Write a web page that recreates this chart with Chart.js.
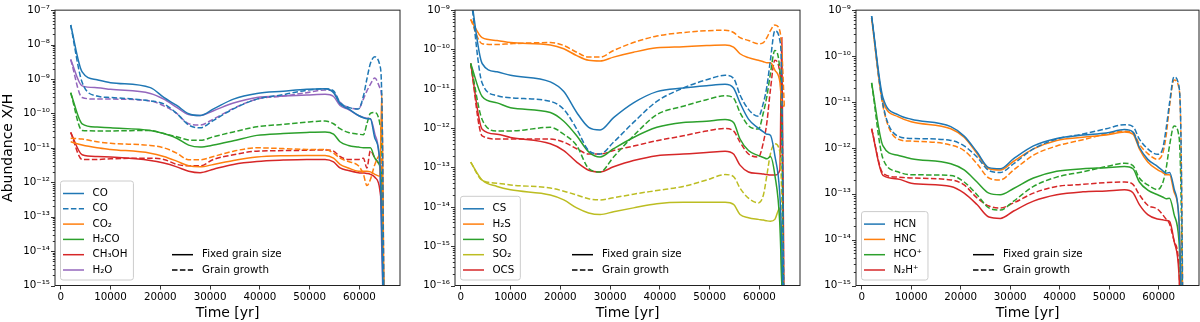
<!DOCTYPE html>
<html lang="en">
<head>
<meta charset="UTF-8">
<title>Abundances vs time</title>
<script src="https://cdn.jsdelivr.net/npm/chart.js"></script>
<style>
  body { margin: 0; background: #fff; }
  canvas { position: absolute; top: 0; }
</style>
</head>
<body>
<canvas id="c1" width="402" height="322" style="left:0px"></canvas>
<canvas id="c2" width="402" height="322" style="left:400px"></canvas>
<canvas id="c3" width="400" height="322" style="left:800px"></canvas>
<script>
// time grid [yr], shared by every series
const time = [2000, 4300, 7300, 10000, 18000, 20700, 23300, 25700, 28000, 30700, 34700, 39400, 44700,
  49400, 53100, 54800, 56100, 57800, 59800, 60800, 61500, 62200, 63100, 64100, 64500, 65000];
const xTicks = [0, 10000, 20000, 30000, 40000, 50000, 60000];
const styleNames = ['Fixed grain size', 'Grain growth'];

// panel 1: O-bearing species
const coFixed = [3.7e-8, 1.6e-9, 9.5e-10, 7.8e-10, 5.6e-10, 2.9e-10, 1.7e-10, 9.8e-11, 8.7e-11, 1.35e-10, 2.6e-10, 3.8e-10, 4.4e-10, 5e-10, 5.2e-10, 4e-10, 1.9e-10, 1.35e-10, 8.7e-11, 7.5e-11, 7e-11, 7e-11, 1.9e-11, 4e-12, 3e-14, 1e-17];
const coGrowth = [3.7e-8, 8e-10, 3.2e-10, 2.9e-10, 2.3e-10, 1.9e-10, 1e-10, 4.6e-11, 3.8e-11, 6.3e-11, 1.35e-10, 2.6e-10, 3.5e-10, 4.7e-10, 5.2e-10, 4.5e-10, 2.1e-10, 1.5e-10, 1.35e-10, 3.2e-10, 1e-9, 2.8e-9, 4.4e-9, 2.5e-9, 2.5e-10, 1e-17];
const co2Fixed = [1.5e-11, 1.2e-11, 1e-11, 9e-12, 7e-12, 5.6e-12, 4.1e-12, 3e-12, 2.8e-12, 3.3e-12, 4.3e-12, 5.4e-12, 5.9e-12, 6e-12, 6e-12, 5e-12, 3.3e-12, 2.6e-12, 2.1e-12, 2.1e-12, 2.1e-12, 2e-12, 1.7e-12, 1.5e-12, 4e-10, 1e-17];
const co2Growth = [1.9e-11, 1.8e-11, 1.5e-11, 1.35e-11, 1.17e-11, 1e-11, 7e-12, 4.5e-12, 4.5e-12, 5.6e-12, 8e-12, 1e-11, 9.5e-12, 9e-12, 9e-12, 7e-12, 5e-12, 4e-12, 3e-12, 1.7e-12, 8e-13, 1.2e-12, 3.3e-12, 6e-12, 3e-12, 1e-17];
const h2coFixed = [4e-10, 5e-11, 4e-11, 3.8e-11, 3.2e-11, 2.6e-11, 1.9e-11, 1.2e-11, 1.05e-11, 1.2e-11, 1.6e-11, 2.3e-11, 2.6e-11, 2.8e-11, 2.9e-11, 2.5e-11, 1.5e-11, 1.17e-11, 1.05e-11, 1e-11, 1e-11, 1e-11, 5e-12, 3e-12, 1e-12, 1e-17];
const h2coGrowth = [4e-10, 3.2e-11, 3.1e-11, 3.1e-11, 3.2e-11, 2.6e-11, 2.1e-11, 1.7e-11, 1.65e-11, 2.1e-11, 2.9e-11, 4.1e-11, 4.8e-11, 5.6e-11, 6e-11, 5e-11, 3.6e-11, 2.8e-11, 2.5e-11, 2.4e-11, 5e-11, 1e-10, 1.07e-10, 5e-11, 8e-12, 1e-17];
const ch3ohFixed = [2.8e-11, 6.3e-12, 5.6e-12, 5.4e-12, 4.3e-12, 3.6e-12, 2.8e-12, 2.1e-12, 1.9e-12, 2.4e-12, 3.3e-12, 4e-12, 4.4e-12, 4.6e-12, 4.6e-12, 3.9e-12, 2.6e-12, 2.2e-12, 1.9e-12, 1.85e-12, 1.8e-12, 1.7e-12, 1.4e-12, 6e-13, 1e-13, 1e-17];
const ch3ohGrowth = [2.8e-11, 4.6e-12, 4.6e-12, 4.8e-12, 5e-12, 4.6e-12, 3.3e-12, 3e-12, 3e-12, 4.6e-12, 6.3e-12, 8e-12, 8.3e-12, 8.5e-12, 8.7e-12, 8e-12, 5.6e-12, 4.6e-12, 4.6e-12, 5e-12, 2.6e-12, 8.3e-12, 5e-12, 3.3e-12, 2e-12, 1e-17];
const h2oFixed = [3.7e-9, 6.3e-10, 5.6e-10, 5e-10, 3.8e-10, 2.6e-10, 1.5e-10, 9.3e-11, 8.7e-11, 1.2e-10, 2e-10, 2.9e-10, 3.2e-10, 3.4e-10, 3.6e-10, 3.1e-10, 1.7e-10, 1.3e-10, 8.7e-11, 7.6e-11, 7.2e-11, 7e-11, 2.5e-11, 2.5e-12, 1e-14, 1e-17];
const h2oGrowth = [3.7e-9, 2.9e-10, 2.6e-10, 2.6e-10, 2.3e-10, 1.66e-10, 1e-10, 5e-11, 4.6e-11, 6.9e-11, 1.4e-10, 2.6e-10, 3.2e-10, 4e-10, 4.8e-10, 4.2e-10, 2.1e-10, 1.5e-10, 1.35e-10, 2.6e-10, 4.5e-10, 7e-10, 1.07e-9, 5.6e-10, 2.1e-10, 1e-17];

// panel 2: S-bearing species
const csFixed = [2.5e-9, 4.4e-11, 2.7e-11, 2.2e-11, 1.5e-11, 8.5e-12, 2.5e-12, 1.05e-12, 9e-13, 1.85e-12, 4.4e-12, 8.5e-12, 1.05e-11, 1.2e-11, 1.3e-11, 1.05e-11, 4.4e-12, 1.7e-12, 1e-12, 8e-13, 7e-13, 6.6e-13, 2e-13, 2e-14, 1e-15, 1e-18];
const csGrowth = [2.5e-9, 1.4e-11, 6.7e-12, 5.9e-12, 4.8e-12, 3e-12, 9.5e-13, 2.7e-13, 2.2e-13, 4.4e-13, 1.4e-12, 4.8e-12, 1.05e-11, 1.7e-11, 2.2e-11, 1.85e-11, 7e-12, 3e-12, 2e-12, 4.4e-12, 1.15e-11, 5.3e-11, 3e-10, 1.7e-10, 1.15e-11, 1e-18];
const h2sFixed = [5.8e-10, 2e-10, 1.7e-10, 1.5e-10, 1.3e-10, 1.04e-10, 7e-11, 5.3e-11, 5.1e-11, 6.4e-11, 8.5e-11, 1.1e-10, 1.18e-10, 1.26e-10, 1.3e-10, 1.15e-10, 7.8e-11, 6.2e-11, 5.3e-11, 4.9e-11, 4.6e-11, 4.6e-11, 3e-11, 1.5e-11, 4.4e-12, 3.5e-12];
const h2sGrowth = [5.8e-10, 1.4e-10, 1.34e-10, 1.4e-10, 1.5e-10, 1.26e-10, 8.5e-11, 6.4e-11, 6.4e-11, 9.4e-11, 1.5e-10, 2.2e-10, 2.7e-10, 3e-10, 3.1e-10, 2.7e-10, 2e-10, 1.7e-10, 1.4e-10, 1.5e-10, 2e-10, 3e-10, 4.2e-10, 3e-10, 9.3e-11, 3.5e-12];
const soFixed = [4.4e-11, 6.4e-12, 4.4e-12, 3.3e-12, 2.5e-12, 1.5e-12, 6.4e-13, 2.5e-13, 1.85e-13, 3e-13, 5.8e-13, 1.05e-12, 1.4e-12, 1.5e-12, 1.66e-12, 1.4e-12, 5.3e-13, 2.7e-13, 2e-13, 1.8e-13, 1.66e-13, 1.9e-13, 6.4e-14, 3.6e-15, 1e-16, 1e-18];
const soGrowth = [4.4e-11, 1.66e-12, 8.5e-13, 8.5e-13, 1.05e-12, 7e-13, 3.6e-13, 9.4e-14, 7.7e-14, 1.85e-13, 6.4e-13, 2.2e-12, 3.6e-12, 5.3e-12, 6.7e-12, 5.8e-12, 2.5e-12, 1.15e-12, 9.5e-13, 2.5e-12, 6.5e-12, 2.4e-11, 9.4e-11, 3e-11, 6.4e-13, 1e-18];
const so2Fixed = [1.37e-13, 4.8e-14, 3.3e-14, 2.7e-14, 2e-14, 1.5e-14, 9.4e-15, 7e-15, 6.4e-15, 7.5e-15, 9.4e-15, 1.2e-14, 1.3e-14, 1.3e-14, 1.3e-14, 1.15e-14, 6.4e-15, 5.3e-15, 4.8e-15, 4.6e-15, 4.4e-15, 4.3e-15, 4.8e-15, 9.4e-15, 1e-16, 1e-18];
const so2Growth = [1.37e-13, 4.7e-14, 4e-14, 3.6e-14, 3e-14, 2.5e-14, 2e-14, 1.6e-14, 1.5e-14, 1.7e-14, 2.1e-14, 2.6e-14, 3.3e-14, 4.8e-14, 6.6e-14, 5.9e-14, 3e-14, 1.66e-14, 1.26e-14, 2e-14, 6.4e-14, 2.2e-13, 4e-13, 2.5e-13, 1.4e-14, 1e-18];
const ocsFixed = [4.4e-11, 9.4e-13, 7e-13, 5.8e-13, 4e-13, 2.7e-13, 1.37e-13, 8.5e-14, 7.7e-14, 1.04e-13, 1.5e-13, 2e-13, 2.2e-13, 2.4e-13, 2.6e-13, 2.2e-13, 1.15e-13, 7.7e-14, 7e-14, 6.8e-14, 6.6e-14, 6.4e-14, 6.4e-14, 8.5e-14, 2e-10, 1e-18];
const ocsGrowth = [4.4e-11, 6.4e-13, 5.3e-13, 5.3e-13, 5.3e-13, 4.4e-13, 3e-13, 2.2e-13, 2.2e-13, 2.7e-13, 3.5e-13, 4.8e-13, 6.4e-13, 8.5e-13, 9.8e-13, 8.5e-13, 4.4e-13, 2.2e-13, 1.85e-13, 4.4e-13, 1.4e-12, 9.3e-12, 5.3e-11, 2.5e-11, 1.4e-12, 1e-18];

// panel 3: N-bearing species and ions
const hcnFixed = [7.4e-10, 1.23e-11, 5.3e-12, 4.2e-12, 2.9e-12, 1.8e-12, 8.1e-13, 3.7e-13, 3.5e-13, 5.8e-13, 1.1e-12, 1.6e-12, 1.9e-12, 2.1e-12, 2.5e-12, 2.2e-12, 1.03e-12, 5.6e-13, 3.9e-13, 3.2e-13, 2.8e-13, 2.9e-13, 1.3e-13, 2.6e-14, 1e-15, 1e-17];
const hcnGrowth = [7.4e-10, 8.7e-12, 1.8e-12, 1.6e-12, 1.45e-12, 1.1e-12, 6.3e-13, 3.2e-13, 2.9e-13, 4.5e-13, 9.5e-13, 1.55e-12, 2e-12, 2.6e-12, 3.2e-12, 2.9e-12, 1.55e-12, 9.5e-13, 7.2e-13, 9.5e-13, 2.6e-12, 9.5e-12, 3.5e-11, 2.2e-11, 1.8e-12, 1e-17];
const hncFixed = [6.8e-10, 1.03e-11, 4.8e-12, 3.7e-12, 2.6e-12, 1.7e-12, 7.5e-13, 3.5e-13, 3.3e-13, 5.1e-13, 9.5e-13, 1.45e-12, 1.7e-12, 1.9e-12, 2.2e-12, 2e-12, 9.5e-13, 4.9e-13, 3.3e-13, 2.9e-13, 2.6e-13, 2.6e-13, 1.1e-13, 3e-14, 1e-15, 1e-17];
const hncGrowth = [6.8e-10, 8.1e-12, 1.55e-12, 1.4e-12, 1.15e-12, 8.7e-13, 4.5e-13, 2.2e-13, 2e-13, 3.3e-13, 6.9e-13, 1.1e-12, 1.5e-12, 2e-12, 2.3e-12, 2.2e-12, 1.2e-12, 7.5e-13, 5.6e-13, 7.5e-13, 1.8e-12, 8.1e-12, 3e-11, 2e-11, 1.8e-12, 1e-17];
const hcoFixed = [2.6e-11, 1.1e-12, 6.9e-13, 5.8e-13, 4.5e-13, 3.3e-13, 1.8e-13, 1.03e-13, 9.5e-14, 1.3e-13, 2.2e-13, 3.1e-13, 3.5e-13, 3.7e-13, 3.9e-13, 3.5e-13, 1.8e-13, 1.2e-13, 9.5e-14, 8.5e-14, 7.8e-14, 8e-14, 3.6e-14, 9.5e-15, 1e-15, 1e-17];
const hcoGrowth = [2.6e-11, 5.8e-13, 3e-13, 2.6e-13, 2.5e-13, 1.8e-13, 9.5e-14, 4.9e-14, 4.4e-14, 6.9e-14, 1.44e-13, 2.3e-13, 3e-13, 3.9e-13, 4.6e-13, 4.1e-13, 2.2e-13, 1.55e-13, 1.23e-13, 1.7e-13, 3.5e-13, 1.12e-12, 3e-12, 1.8e-12, 1.3e-13, 1e-17];
const n2hFixed = [2.6e-12, 2.5e-13, 2.1e-13, 1.7e-13, 1.44e-13, 1.03e-13, 5.8e-14, 3.1e-14, 2.9e-14, 4.2e-14, 6.9e-14, 9.5e-14, 1.1e-13, 1.15e-13, 1.22e-13, 1.05e-13, 5.8e-14, 3.5e-14, 2.8e-14, 2.7e-14, 2.6e-14, 2.5e-14, 9.5e-15, 1.8e-15, 1e-16, 1e-17];
const n2hGrowth = [2.6e-12, 2.8e-13, 2.3e-13, 2.2e-13, 2e-13, 1.55e-13, 8.1e-14, 5.4e-14, 4.9e-14, 6.3e-14, 1.03e-13, 1.44e-13, 1.6e-13, 1.75e-13, 1.8e-13, 1.6e-13, 9.5e-14, 5.6e-14, 4.6e-14, 3.5e-14, 2.8e-14, 2.2e-14, 9.5e-15, 2.6e-15, 1e-16, 1e-17];

const C = {
  blue: '#1f77b4', orange: '#ff7f0e', green: '#2ca02c',
  red: '#d62728', purple: '#9467bd', olive: '#bcbd22'
};
const FONT = 'DejaVu Sans';

function line(label, color, values, dashed, inLegend) {
  return {
    label: label,
    inLegend: inLegend,
    data: time.map((t, i) => ({x: t, y: values[i]})),
    borderColor: color,
    backgroundColor: color,
    borderWidth: 1.5,
    borderDash: dashed ? [5.5, 2.4] : [],
    pointRadius: 0,
    fill: false,
    cubicInterpolationMode: 'monotone'
  };
}

const sup = {'0': '⁰', '1': '¹', '2': '²', '3': '³', '4': '⁴', '5': '⁵', '6': '⁶', '7': '⁷', '8': '⁸', '9': '⁹', '-': '⁻'};
function powLabel(v) {
  const e = Math.round(Math.log10(v));
  return '10' + String(e).split('').map(c => sup[c]).join('');
}

// legends inside the axes + frame + minor ticks on the log axis
const decorations = {
  id: 'decorations',
  afterDatasetsDraw(chart) {
    const ctx = chart.ctx, a = chart.chartArea;
    const items = chart.data.datasets.filter(d => d.inLegend);
    const rowH = 15.3;
    const lastY = a.bottom - 15.5;
    const firstY = lastY - (items.length - 1) * rowH;
    ctx.save();
    ctx.font = '10.3px "' + FONT + '"';
    const textW = Math.max(...items.map(d => ctx.measureText(d.label).width));
    const bx = a.left + 5.5, by = firstY - 12.5;
    const bw = 32 + textW + 6, bh = a.bottom - 5.5 - by;
    ctx.beginPath();
    ctx.roundRect(bx, by, bw, bh, 2.5);
    ctx.fillStyle = 'rgba(255,255,255,0.8)';
    ctx.fill();
    ctx.strokeStyle = '#cccccc';
    ctx.lineWidth = 1;
    ctx.stroke();
    ctx.textBaseline = 'middle';
    items.forEach((d, i) => {
      const y = firstY + i * rowH;
      ctx.beginPath();
      ctx.setLineDash(d.borderDash);
      ctx.strokeStyle = d.borderColor;
      ctx.lineWidth = 1.5;
      ctx.moveTo(a.left + 8, y);
      ctx.lineTo(a.left + 29, y);
      ctx.stroke();
      ctx.fillStyle = '#000';
      ctx.fillText(d.label, a.left + 37.5, y);
    });
    styleNames.forEach((name, i) => {
      const y = lastY - (1 - i) * rowH;
      ctx.beginPath();
      ctx.setLineDash(i === 0 ? [] : [5.5, 2.4]);
      ctx.strokeStyle = '#000';
      ctx.lineWidth = 1.5;
      ctx.moveTo(a.left + 117, y);
      ctx.lineTo(a.left + 138, y);
      ctx.stroke();
      ctx.fillStyle = '#000';
      ctx.fillText(name, a.left + 147, y);
    });
    ctx.setLineDash([]);
    // y tick marks (major long, minor short)
    const ys = chart.scales.y;
    ctx.strokeStyle = '#000';
    ctx.lineWidth = 0.8;
    ys.ticks.forEach(t => {
      const py = Math.round(ys.getPixelForValue(t.value)) + 0.5;
      ctx.beginPath();
      ctx.moveTo(a.left - (t.major ? 4 : 2.2), py);
      ctx.lineTo(a.left, py);
      ctx.stroke();
    });
    // axes frame
    ctx.strokeStyle = '#222';
    ctx.lineWidth = 1;
    ctx.strokeRect(a.left, a.top, a.right - a.left, a.bottom - a.top);
    ctx.restore();
  }
};

function makePanel(id, datasets, yMin, yMax, yWidth, padRight, yTitle) {
  const minExp = Math.round(Math.log10(yMin)), maxExp = Math.round(Math.log10(yMax));
  new Chart(document.getElementById(id), {
    type: 'line',
    data: {datasets: datasets},
    plugins: [decorations],
    options: {
      responsive: false,
      animation: false,
      devicePixelRatio: 1,
      layout: {padding: {top: 5.5, right: padRight, left: 0, bottom: 0}},
      plugins: {legend: {display: false}, tooltip: {enabled: false}},
      scales: {
        x: {
          type: 'linear',
          min: -1150,
          max: 68150,
          afterBuildTicks: s => { s.ticks = xTicks.map(v => ({value: v})); },
          afterFit: s => { s.height = 36.5; },
          ticks: {
            autoSkip: false, maxRotation: 0, padding: 3, color: '#000',
            font: {family: FONT, size: 10.3, lineHeight: 1.0},
            callback: v => String(v)
          },
          grid: {drawOnChartArea: false, drawTicks: true, tickLength: 4, tickColor: '#000', tickWidth: 0.8},
          border: {display: false},
          title: {
            display: true, text: 'Time [yr]', color: '#000',
            font: {family: FONT, size: 14, lineHeight: 1.2}, padding: {top: 0, bottom: 0}
          }
        },
        y: {
          type: 'logarithmic',
          min: yMin,
          max: yMax,
          afterBuildTicks: s => {
            const ticks = [];
            for (let e = minExp; e <= maxExp; e++) {
              for (let k = 1; k <= 9; k++) {
                const v = Number(k + 'e' + e);
                if (v <= yMax * 1.0001) ticks.push({value: v, major: k === 1});
              }
            }
            s.ticks = ticks;
          },
          afterFit: s => { s.width = yWidth; },
          ticks: {
            autoSkip: false, padding: 5, color: '#000',
            font: {family: FONT, size: 10.3, lineHeight: 1.0},
            callback: (v, i, ticks) => ticks[i].major ? powLabel(v) : ''
          },
          grid: {drawOnChartArea: false, drawTicks: false},
          border: {display: false},
          title: {
            display: !!yTitle, text: yTitle || '', color: '#000',
            font: {family: FONT, size: 14, lineHeight: 1.2}, padding: {top: 0, bottom: 0}
          }
        }
      }
    }
  });
}

makePanel('c1', [
  line('CO', C.blue, coFixed, false, true),
  line('CO', C.blue, coGrowth, true, true),
  line('CO₂', C.orange, co2Fixed, false, true),
  line('CO₂', C.orange, co2Growth, true, false),
  line('H₂CO', C.green, h2coFixed, false, true),
  line('H₂CO', C.green, h2coGrowth, true, false),
  line('CH₃OH', C.red, ch3ohFixed, false, true),
  line('CH₃OH', C.red, ch3ohGrowth, true, false),
  line('H₂O', C.purple, h2oFixed, false, true),
  line('H₂O', C.purple, h2oGrowth, true, false)
], 1e-15, 1e-7, 55, 2, 'Abundance X/H');

makePanel('c2', [
  line('CS', C.blue, csFixed, false, true),
  line('CS', C.blue, csGrowth, true, false),
  line('H₂S', C.orange, h2sFixed, false, true),
  line('H₂S', C.orange, h2sGrowth, true, false),
  line('SO', C.green, soFixed, false, true),
  line('SO', C.green, soGrowth, true, false),
  line('SO₂', C.olive, so2Fixed, false, true),
  line('SO₂', C.olive, so2Growth, true, false),
  line('OCS', C.red, ocsFixed, false, true),
  line('OCS', C.red, ocsGrowth, true, false)
], 1e-16, 1e-9, 55, 2, null);

makePanel('c3', [
  line('HCN', C.blue, hcnFixed, false, true),
  line('HCN', C.blue, hcnGrowth, true, false),
  line('HNC', C.orange, hncFixed, false, true),
  line('HNC', C.orange, hncGrowth, true, false),
  line('HCO⁺', C.green, hcoFixed, false, true),
  line('HCO⁺', C.green, hcoGrowth, true, false),
  line('N₂H⁺', C.red, n2hFixed, false, true),
  line('N₂H⁺', C.red, n2hGrowth, true, false)
], 1e-15, 1e-9, 56, 1, null);
</script>
</body>
</html>
